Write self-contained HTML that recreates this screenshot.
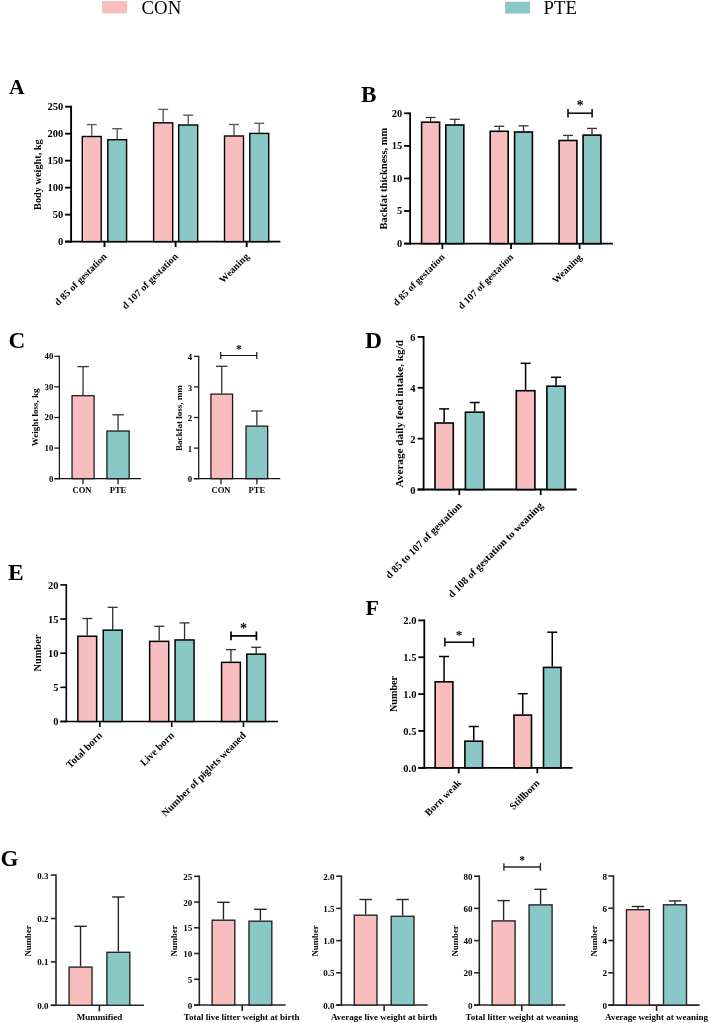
<!DOCTYPE html>
<html><head><meta charset="utf-8"><style>
html,body{margin:0;padding:0;background:#fff;}
svg{display:block;font-family:"Liberation Serif", serif;will-change:transform;}
</style></head><body>
<svg width="708" height="1023" viewBox="0 0 708 1023">
<rect width="708" height="1023" fill="#fff"/>
<rect x="102.1" y="1.1" width="25.1" height="12.3" fill="#F7BEBD"/>
<text x="141.60" y="14.00" font-size="18.8" font-weight="normal" text-anchor="start" fill="#000">CON</text>
<rect x="505.1" y="1.7" width="25" height="11.9" fill="#8AC8C7"/>
<text x="543.60" y="14.00" font-size="18.8" font-weight="normal" text-anchor="start" fill="#000">PTE</text>
<text x="9.10" y="93.80" font-size="21.5" font-weight="bold" text-anchor="start" fill="#000">A</text>
<text x="361.10" y="101.60" font-size="23.2" font-weight="bold" text-anchor="start" fill="#000">B</text>
<text x="8.40" y="347.80" font-size="23.2" font-weight="bold" text-anchor="start" fill="#000">C</text>
<text x="365.10" y="347.70" font-size="23.5" font-weight="bold" text-anchor="start" fill="#000">D</text>
<text x="8.10" y="579.80" font-size="23.5" font-weight="bold" text-anchor="start" fill="#000">E</text>
<text x="365.60" y="614.70" font-size="21.9" font-weight="bold" text-anchor="start" fill="#000">F</text>
<text x="0.40" y="866.30" font-size="23" font-weight="bold" text-anchor="start" fill="#000">G</text>
<line x1="71.10" y1="105.75" x2="71.10" y2="242.55" stroke="#000" stroke-width="1.9"/>
<line x1="65.10" y1="241.60" x2="280.40" y2="241.60" stroke="#000" stroke-width="1.9"/>
<line x1="65.10" y1="241.60" x2="71.10" y2="241.60" stroke="#000" stroke-width="1.9"/>
<text x="63.30" y="245.37" font-size="10.5" font-weight="bold" text-anchor="end" fill="#000">0</text>
<line x1="65.10" y1="214.62" x2="71.10" y2="214.62" stroke="#000" stroke-width="1.9"/>
<text x="63.30" y="218.39" font-size="10.5" font-weight="bold" text-anchor="end" fill="#000">50</text>
<line x1="65.10" y1="187.64" x2="71.10" y2="187.64" stroke="#000" stroke-width="1.9"/>
<text x="63.30" y="191.41" font-size="10.5" font-weight="bold" text-anchor="end" fill="#000">100</text>
<line x1="65.10" y1="160.66" x2="71.10" y2="160.66" stroke="#000" stroke-width="1.9"/>
<text x="63.30" y="164.43" font-size="10.5" font-weight="bold" text-anchor="end" fill="#000">150</text>
<line x1="65.10" y1="133.68" x2="71.10" y2="133.68" stroke="#000" stroke-width="1.9"/>
<text x="63.30" y="137.45" font-size="10.5" font-weight="bold" text-anchor="end" fill="#000">200</text>
<line x1="65.10" y1="106.70" x2="71.10" y2="106.70" stroke="#000" stroke-width="1.9"/>
<text x="63.30" y="110.47" font-size="10.5" font-weight="bold" text-anchor="end" fill="#000">250</text>
<line x1="91.75" y1="135.80" x2="91.75" y2="124.60" stroke="#5c5c5c" stroke-width="1.4"/>
<line x1="86.75" y1="124.60" x2="96.75" y2="124.60" stroke="#5c5c5c" stroke-width="1.4"/>
<rect x="82.30" y="136.50" width="18.90" height="105.10" fill="#F7BEBD" stroke="#000" stroke-width="1.4"/>
<line x1="117.20" y1="139.00" x2="117.20" y2="128.70" stroke="#5c5c5c" stroke-width="1.4"/>
<line x1="112.20" y1="128.70" x2="122.20" y2="128.70" stroke="#5c5c5c" stroke-width="1.4"/>
<rect x="107.80" y="139.70" width="18.80" height="101.90" fill="#8AC8C7" stroke="#000" stroke-width="1.4"/>
<line x1="163.15" y1="122.10" x2="163.15" y2="109.40" stroke="#5c5c5c" stroke-width="1.4"/>
<line x1="158.15" y1="109.40" x2="168.15" y2="109.40" stroke="#5c5c5c" stroke-width="1.4"/>
<rect x="153.60" y="122.80" width="19.10" height="118.80" fill="#F7BEBD" stroke="#000" stroke-width="1.4"/>
<line x1="188.20" y1="124.30" x2="188.20" y2="115.20" stroke="#5c5c5c" stroke-width="1.4"/>
<line x1="183.20" y1="115.20" x2="193.20" y2="115.20" stroke="#5c5c5c" stroke-width="1.4"/>
<rect x="178.70" y="125.00" width="19.00" height="116.60" fill="#8AC8C7" stroke="#000" stroke-width="1.4"/>
<line x1="234.00" y1="135.30" x2="234.00" y2="124.50" stroke="#5c5c5c" stroke-width="1.4"/>
<line x1="229.00" y1="124.50" x2="239.00" y2="124.50" stroke="#5c5c5c" stroke-width="1.4"/>
<rect x="224.50" y="136.00" width="19.00" height="105.60" fill="#F7BEBD" stroke="#000" stroke-width="1.4"/>
<line x1="259.25" y1="132.70" x2="259.25" y2="123.30" stroke="#5c5c5c" stroke-width="1.4"/>
<line x1="254.25" y1="123.30" x2="264.25" y2="123.30" stroke="#5c5c5c" stroke-width="1.4"/>
<rect x="249.80" y="133.40" width="18.90" height="108.20" fill="#8AC8C7" stroke="#000" stroke-width="1.4"/>
<line x1="104.50" y1="241.60" x2="104.50" y2="247.10" stroke="#000" stroke-width="1.9"/>
<line x1="175.60" y1="241.60" x2="175.60" y2="247.10" stroke="#000" stroke-width="1.9"/>
<line x1="246.70" y1="241.60" x2="246.70" y2="247.10" stroke="#000" stroke-width="1.9"/>
<text x="107.50" y="257.00" font-size="10.0" font-weight="bold" text-anchor="end" fill="#000" transform="rotate(-45 107.50 257.00)">d 85 of gestation</text>
<text x="178.60" y="257.00" font-size="10.0" font-weight="bold" text-anchor="end" fill="#000" transform="rotate(-45 178.60 257.00)">d 107 of gestation</text>
<text x="249.70" y="257.00" font-size="10.0" font-weight="bold" text-anchor="end" fill="#000" transform="rotate(-45 249.70 257.00)">Weaning</text>
<text x="41.10" y="174.60" font-size="10.3" font-weight="bold" text-anchor="middle" fill="#000" transform="rotate(-90 41.10 174.60)">Body weight, kg</text>
<line x1="410.10" y1="112.40" x2="410.10" y2="244.50" stroke="#000" stroke-width="1.8"/>
<line x1="404.10" y1="243.60" x2="612.90" y2="243.60" stroke="#000" stroke-width="1.8"/>
<line x1="404.10" y1="243.60" x2="410.10" y2="243.60" stroke="#000" stroke-width="1.8"/>
<text x="402.30" y="246.97" font-size="10.5" font-weight="bold" text-anchor="end" fill="#000">0</text>
<line x1="404.10" y1="211.02" x2="410.10" y2="211.02" stroke="#000" stroke-width="1.8"/>
<text x="402.30" y="214.39" font-size="10.5" font-weight="bold" text-anchor="end" fill="#000">5</text>
<line x1="404.10" y1="178.45" x2="410.10" y2="178.45" stroke="#000" stroke-width="1.8"/>
<text x="402.30" y="181.82" font-size="10.5" font-weight="bold" text-anchor="end" fill="#000">10</text>
<line x1="404.10" y1="145.88" x2="410.10" y2="145.88" stroke="#000" stroke-width="1.8"/>
<text x="402.30" y="149.25" font-size="10.5" font-weight="bold" text-anchor="end" fill="#000">15</text>
<line x1="404.10" y1="113.30" x2="410.10" y2="113.30" stroke="#000" stroke-width="1.8"/>
<text x="402.30" y="116.67" font-size="10.5" font-weight="bold" text-anchor="end" fill="#000">20</text>
<line x1="430.60" y1="121.40" x2="430.60" y2="117.50" stroke="#333" stroke-width="1.3"/>
<line x1="425.60" y1="117.50" x2="435.60" y2="117.50" stroke="#333" stroke-width="1.3"/>
<rect x="421.60" y="122.20" width="18.00" height="121.40" fill="#F7BEBD" stroke="#000" stroke-width="1.6"/>
<line x1="454.80" y1="124.20" x2="454.80" y2="119.30" stroke="#333" stroke-width="1.3"/>
<line x1="449.80" y1="119.30" x2="459.80" y2="119.30" stroke="#333" stroke-width="1.3"/>
<rect x="445.80" y="125.00" width="18.00" height="118.60" fill="#8AC8C7" stroke="#000" stroke-width="1.6"/>
<line x1="499.20" y1="130.50" x2="499.20" y2="126.30" stroke="#333" stroke-width="1.3"/>
<line x1="494.20" y1="126.30" x2="504.20" y2="126.30" stroke="#333" stroke-width="1.3"/>
<rect x="490.20" y="131.30" width="18.00" height="112.30" fill="#F7BEBD" stroke="#000" stroke-width="1.6"/>
<line x1="523.50" y1="131.20" x2="523.50" y2="125.80" stroke="#333" stroke-width="1.3"/>
<line x1="518.50" y1="125.80" x2="528.50" y2="125.80" stroke="#333" stroke-width="1.3"/>
<rect x="514.60" y="132.00" width="17.80" height="111.60" fill="#8AC8C7" stroke="#000" stroke-width="1.6"/>
<line x1="568.00" y1="139.70" x2="568.00" y2="135.40" stroke="#333" stroke-width="1.3"/>
<line x1="563.00" y1="135.40" x2="573.00" y2="135.40" stroke="#333" stroke-width="1.3"/>
<rect x="559.10" y="140.50" width="17.80" height="103.10" fill="#F7BEBD" stroke="#000" stroke-width="1.6"/>
<line x1="592.00" y1="134.30" x2="592.00" y2="128.40" stroke="#333" stroke-width="1.3"/>
<line x1="587.00" y1="128.40" x2="597.00" y2="128.40" stroke="#333" stroke-width="1.3"/>
<rect x="583.10" y="135.10" width="17.80" height="108.50" fill="#8AC8C7" stroke="#000" stroke-width="1.6"/>
<line x1="442.40" y1="243.60" x2="442.40" y2="249.10" stroke="#000" stroke-width="1.8"/>
<line x1="511.00" y1="243.60" x2="511.00" y2="249.10" stroke="#000" stroke-width="1.8"/>
<line x1="579.60" y1="243.60" x2="579.60" y2="249.10" stroke="#000" stroke-width="1.8"/>
<text x="445.40" y="257.70" font-size="9.9" font-weight="bold" text-anchor="end" fill="#000" transform="rotate(-45 445.40 257.70)">d 85 of gestation</text>
<text x="514.00" y="257.70" font-size="9.9" font-weight="bold" text-anchor="end" fill="#000" transform="rotate(-45 514.00 257.70)">d 107 of gestation</text>
<text x="582.60" y="257.70" font-size="9.9" font-weight="bold" text-anchor="end" fill="#000" transform="rotate(-45 582.60 257.70)">Weaning</text>
<text x="386.77" y="178.60" font-size="10.5" font-weight="bold" text-anchor="middle" fill="#000" transform="rotate(-90 386.77 178.60)">Backfat thickness, mm</text>
<line x1="568.00" y1="113.20" x2="592.10" y2="113.20" stroke="#000" stroke-width="1.5"/>
<line x1="568.00" y1="108.95" x2="568.00" y2="117.45" stroke="#000" stroke-width="1.5"/>
<line x1="592.10" y1="108.95" x2="592.10" y2="117.45" stroke="#000" stroke-width="1.5"/>
<text x="580.05" y="110.30" font-size="13.6" font-weight="bold" text-anchor="middle" fill="#000">*</text>
<line x1="59.40" y1="355.68" x2="59.40" y2="479.32" stroke="#151515" stroke-width="1.25"/>
<line x1="54.40" y1="478.70" x2="141.10" y2="478.70" stroke="#151515" stroke-width="1.25"/>
<line x1="54.40" y1="478.70" x2="59.40" y2="478.70" stroke="#151515" stroke-width="1.25"/>
<text x="53.30" y="481.69" font-size="8.8" font-weight="bold" text-anchor="end" fill="#000">0</text>
<line x1="54.40" y1="448.10" x2="59.40" y2="448.10" stroke="#151515" stroke-width="1.25"/>
<text x="53.30" y="451.09" font-size="8.8" font-weight="bold" text-anchor="end" fill="#000">10</text>
<line x1="54.40" y1="417.50" x2="59.40" y2="417.50" stroke="#151515" stroke-width="1.25"/>
<text x="53.30" y="420.49" font-size="8.8" font-weight="bold" text-anchor="end" fill="#000">20</text>
<line x1="54.40" y1="386.90" x2="59.40" y2="386.90" stroke="#151515" stroke-width="1.25"/>
<text x="53.30" y="389.89" font-size="8.8" font-weight="bold" text-anchor="end" fill="#000">30</text>
<line x1="54.40" y1="356.30" x2="59.40" y2="356.30" stroke="#151515" stroke-width="1.25"/>
<text x="53.30" y="359.29" font-size="8.8" font-weight="bold" text-anchor="end" fill="#000">40</text>
<line x1="83.05" y1="395.10" x2="83.05" y2="366.60" stroke="#333" stroke-width="1.3"/>
<line x1="77.30" y1="366.60" x2="88.80" y2="366.60" stroke="#333" stroke-width="1.3"/>
<rect x="72.03" y="395.73" width="22.05" height="82.97" fill="#F7BEBD" stroke="#151515" stroke-width="1.25"/>
<line x1="118.05" y1="430.40" x2="118.05" y2="414.80" stroke="#333" stroke-width="1.3"/>
<line x1="112.30" y1="414.80" x2="123.80" y2="414.80" stroke="#333" stroke-width="1.3"/>
<rect x="106.92" y="431.02" width="22.25" height="47.68" fill="#8AC8C7" stroke="#151515" stroke-width="1.25"/>
<line x1="83.00" y1="478.70" x2="83.00" y2="484.20" stroke="#151515" stroke-width="1.25"/>
<line x1="118.10" y1="478.70" x2="118.10" y2="484.20" stroke="#151515" stroke-width="1.25"/>
<text x="82.00" y="492.80" font-size="8.6" font-weight="bold" text-anchor="middle" fill="#000">CON</text>
<text x="118.00" y="492.80" font-size="8.6" font-weight="bold" text-anchor="middle" fill="#000">PTE</text>
<text x="38.26" y="417.35" font-size="9.0" font-weight="bold" text-anchor="middle" fill="#000" transform="rotate(-90 38.26 417.35)">Weight loss, kg</text>
<line x1="198.70" y1="355.68" x2="198.70" y2="479.32" stroke="#151515" stroke-width="1.25"/>
<line x1="193.90" y1="478.70" x2="280.30" y2="478.70" stroke="#151515" stroke-width="1.25"/>
<line x1="193.90" y1="478.70" x2="198.70" y2="478.70" stroke="#151515" stroke-width="1.25"/>
<text x="192.20" y="482.39" font-size="8.8" font-weight="bold" text-anchor="end" fill="#000">0</text>
<line x1="193.90" y1="448.10" x2="198.70" y2="448.10" stroke="#151515" stroke-width="1.25"/>
<text x="192.20" y="451.79" font-size="8.8" font-weight="bold" text-anchor="end" fill="#000">1</text>
<line x1="193.90" y1="417.50" x2="198.70" y2="417.50" stroke="#151515" stroke-width="1.25"/>
<text x="192.20" y="421.19" font-size="8.8" font-weight="bold" text-anchor="end" fill="#000">2</text>
<line x1="193.90" y1="386.90" x2="198.70" y2="386.90" stroke="#151515" stroke-width="1.25"/>
<text x="192.20" y="390.59" font-size="8.8" font-weight="bold" text-anchor="end" fill="#000">3</text>
<line x1="193.90" y1="356.30" x2="198.70" y2="356.30" stroke="#151515" stroke-width="1.25"/>
<text x="192.20" y="359.99" font-size="8.8" font-weight="bold" text-anchor="end" fill="#000">4</text>
<line x1="221.75" y1="393.50" x2="221.75" y2="366.30" stroke="#333" stroke-width="1.3"/>
<line x1="216.00" y1="366.30" x2="227.50" y2="366.30" stroke="#333" stroke-width="1.3"/>
<rect x="210.93" y="394.12" width="21.65" height="84.57" fill="#F7BEBD" stroke="#151515" stroke-width="1.25"/>
<line x1="256.85" y1="425.50" x2="256.85" y2="411.00" stroke="#333" stroke-width="1.3"/>
<line x1="251.10" y1="411.00" x2="262.60" y2="411.00" stroke="#333" stroke-width="1.3"/>
<rect x="246.03" y="426.12" width="21.65" height="52.57" fill="#8AC8C7" stroke="#151515" stroke-width="1.25"/>
<line x1="221.00" y1="478.70" x2="221.00" y2="484.20" stroke="#151515" stroke-width="1.25"/>
<line x1="256.90" y1="478.70" x2="256.90" y2="484.20" stroke="#151515" stroke-width="1.25"/>
<text x="221.00" y="492.80" font-size="8.6" font-weight="bold" text-anchor="middle" fill="#000">CON</text>
<text x="256.90" y="492.80" font-size="8.6" font-weight="bold" text-anchor="middle" fill="#000">PTE</text>
<text x="182.36" y="418.10" font-size="9.0" font-weight="bold" text-anchor="middle" fill="#000" transform="rotate(-90 182.36 418.10)">Backfat loss, mm</text>
<line x1="220.75" y1="355.50" x2="256.80" y2="355.50" stroke="#111" stroke-width="1.2"/>
<line x1="220.75" y1="352.05" x2="220.75" y2="358.95" stroke="#111" stroke-width="1.2"/>
<line x1="256.80" y1="352.05" x2="256.80" y2="358.95" stroke="#111" stroke-width="1.2"/>
<text x="238.78" y="352.90" font-size="11.5" font-weight="bold" text-anchor="middle" fill="#000">*</text>
<line x1="423.60" y1="336.00" x2="423.60" y2="490.40" stroke="#000" stroke-width="1.8"/>
<line x1="417.60" y1="489.50" x2="576.70" y2="489.50" stroke="#000" stroke-width="1.8"/>
<line x1="417.60" y1="489.50" x2="423.60" y2="489.50" stroke="#000" stroke-width="1.8"/>
<text x="415.50" y="493.57" font-size="10.5" font-weight="bold" text-anchor="end" fill="#000">0</text>
<line x1="417.60" y1="438.63" x2="423.60" y2="438.63" stroke="#000" stroke-width="1.8"/>
<text x="415.50" y="442.70" font-size="10.5" font-weight="bold" text-anchor="end" fill="#000">2</text>
<line x1="417.60" y1="387.77" x2="423.60" y2="387.77" stroke="#000" stroke-width="1.8"/>
<text x="415.50" y="391.84" font-size="10.5" font-weight="bold" text-anchor="end" fill="#000">4</text>
<line x1="417.60" y1="336.90" x2="423.60" y2="336.90" stroke="#000" stroke-width="1.8"/>
<text x="415.50" y="340.97" font-size="10.5" font-weight="bold" text-anchor="end" fill="#000">6</text>
<line x1="444.15" y1="422.20" x2="444.15" y2="408.90" stroke="#000" stroke-width="1.5"/>
<line x1="439.15" y1="408.90" x2="449.15" y2="408.90" stroke="#000" stroke-width="1.5"/>
<rect x="435.00" y="423.00" width="18.30" height="66.50" fill="#F7BEBD" stroke="#000" stroke-width="1.6"/>
<line x1="474.70" y1="411.40" x2="474.70" y2="402.50" stroke="#000" stroke-width="1.5"/>
<line x1="469.70" y1="402.50" x2="479.70" y2="402.50" stroke="#000" stroke-width="1.5"/>
<rect x="465.40" y="412.20" width="18.60" height="77.30" fill="#8AC8C7" stroke="#000" stroke-width="1.6"/>
<line x1="525.60" y1="389.90" x2="525.60" y2="363.30" stroke="#000" stroke-width="1.5"/>
<line x1="520.60" y1="363.30" x2="530.60" y2="363.30" stroke="#000" stroke-width="1.5"/>
<rect x="516.30" y="390.70" width="18.60" height="98.80" fill="#F7BEBD" stroke="#000" stroke-width="1.6"/>
<line x1="556.05" y1="385.40" x2="556.05" y2="377.30" stroke="#000" stroke-width="1.5"/>
<line x1="551.05" y1="377.30" x2="561.05" y2="377.30" stroke="#000" stroke-width="1.5"/>
<rect x="546.90" y="386.20" width="18.30" height="103.30" fill="#8AC8C7" stroke="#000" stroke-width="1.6"/>
<line x1="459.30" y1="489.50" x2="459.30" y2="495.00" stroke="#000" stroke-width="1.8"/>
<line x1="540.70" y1="489.50" x2="540.70" y2="495.00" stroke="#000" stroke-width="1.8"/>
<text x="462.30" y="506.40" font-size="10.5" font-weight="bold" text-anchor="end" fill="#000" transform="rotate(-45 462.30 506.40)">d 85 to 107 of gestation</text>
<text x="543.70" y="506.40" font-size="10.5" font-weight="bold" text-anchor="end" fill="#000" transform="rotate(-45 543.70 506.40)">d 108 of gestation to weaning</text>
<text x="403.51" y="413.70" font-size="11.2" font-weight="bold" text-anchor="middle" fill="#000" transform="rotate(-90 403.51 413.70)">Average daily feed intake, kg/d</text>
<line x1="66.30" y1="584.10" x2="66.30" y2="722.30" stroke="#000" stroke-width="1.6"/>
<line x1="60.30" y1="721.50" x2="277.90" y2="721.50" stroke="#000" stroke-width="1.6"/>
<line x1="60.30" y1="721.50" x2="66.30" y2="721.50" stroke="#000" stroke-width="1.6"/>
<text x="58.40" y="725.17" font-size="10.5" font-weight="bold" text-anchor="end" fill="#000">0</text>
<line x1="60.30" y1="687.35" x2="66.30" y2="687.35" stroke="#000" stroke-width="1.6"/>
<text x="58.40" y="691.02" font-size="10.5" font-weight="bold" text-anchor="end" fill="#000">5</text>
<line x1="60.30" y1="653.20" x2="66.30" y2="653.20" stroke="#000" stroke-width="1.6"/>
<text x="58.40" y="656.87" font-size="10.5" font-weight="bold" text-anchor="end" fill="#000">10</text>
<line x1="60.30" y1="619.05" x2="66.30" y2="619.05" stroke="#000" stroke-width="1.6"/>
<text x="58.40" y="622.72" font-size="10.5" font-weight="bold" text-anchor="end" fill="#000">15</text>
<line x1="60.30" y1="584.90" x2="66.30" y2="584.90" stroke="#000" stroke-width="1.6"/>
<text x="58.40" y="588.57" font-size="10.5" font-weight="bold" text-anchor="end" fill="#000">20</text>
<line x1="87.25" y1="635.50" x2="87.25" y2="618.50" stroke="#2e2e2e" stroke-width="1.3"/>
<line x1="82.25" y1="618.50" x2="92.25" y2="618.50" stroke="#2e2e2e" stroke-width="1.3"/>
<rect x="77.85" y="636.25" width="18.80" height="85.25" fill="#F7BEBD" stroke="#000" stroke-width="1.5"/>
<line x1="112.70" y1="629.40" x2="112.70" y2="607.30" stroke="#2e2e2e" stroke-width="1.3"/>
<line x1="107.70" y1="607.30" x2="117.70" y2="607.30" stroke="#2e2e2e" stroke-width="1.3"/>
<rect x="103.25" y="630.15" width="18.90" height="91.35" fill="#8AC8C7" stroke="#000" stroke-width="1.5"/>
<line x1="159.20" y1="640.60" x2="159.20" y2="626.30" stroke="#2e2e2e" stroke-width="1.3"/>
<line x1="154.20" y1="626.30" x2="164.20" y2="626.30" stroke="#2e2e2e" stroke-width="1.3"/>
<rect x="149.65" y="641.35" width="19.10" height="80.15" fill="#F7BEBD" stroke="#000" stroke-width="1.5"/>
<line x1="184.55" y1="639.20" x2="184.55" y2="622.90" stroke="#2e2e2e" stroke-width="1.3"/>
<line x1="179.55" y1="622.90" x2="189.55" y2="622.90" stroke="#2e2e2e" stroke-width="1.3"/>
<rect x="175.05" y="639.95" width="19.00" height="81.55" fill="#8AC8C7" stroke="#000" stroke-width="1.5"/>
<line x1="230.95" y1="661.60" x2="230.95" y2="649.60" stroke="#2e2e2e" stroke-width="1.3"/>
<line x1="225.95" y1="649.60" x2="235.95" y2="649.60" stroke="#2e2e2e" stroke-width="1.3"/>
<rect x="221.55" y="662.35" width="18.80" height="59.15" fill="#F7BEBD" stroke="#000" stroke-width="1.5"/>
<line x1="256.20" y1="653.40" x2="256.20" y2="647.30" stroke="#2e2e2e" stroke-width="1.3"/>
<line x1="251.20" y1="647.30" x2="261.20" y2="647.30" stroke="#2e2e2e" stroke-width="1.3"/>
<rect x="246.85" y="654.15" width="18.70" height="67.35" fill="#8AC8C7" stroke="#000" stroke-width="1.5"/>
<line x1="99.90" y1="721.50" x2="99.90" y2="727.00" stroke="#000" stroke-width="1.6"/>
<line x1="171.70" y1="721.50" x2="171.70" y2="727.00" stroke="#000" stroke-width="1.6"/>
<line x1="243.50" y1="721.50" x2="243.50" y2="727.00" stroke="#000" stroke-width="1.6"/>
<text x="102.90" y="736.00" font-size="10.3" font-weight="bold" text-anchor="end" fill="#000" transform="rotate(-45 102.90 736.00)">Total born</text>
<text x="174.70" y="736.00" font-size="10.3" font-weight="bold" text-anchor="end" fill="#000" transform="rotate(-45 174.70 736.00)">Live born</text>
<text x="246.50" y="736.00" font-size="10.3" font-weight="bold" text-anchor="end" fill="#000" transform="rotate(-45 246.50 736.00)">Number of piglets weaned</text>
<text x="41.14" y="653.10" font-size="10.4" font-weight="bold" text-anchor="middle" fill="#000" transform="rotate(-90 41.14 653.10)">Number</text>
<line x1="231.00" y1="635.90" x2="256.40" y2="635.90" stroke="#000" stroke-width="1.7"/>
<line x1="231.00" y1="631.45" x2="231.00" y2="640.35" stroke="#000" stroke-width="1.7"/>
<line x1="256.40" y1="631.45" x2="256.40" y2="640.35" stroke="#000" stroke-width="1.7"/>
<text x="243.70" y="632.80" font-size="14.3" font-weight="bold" text-anchor="middle" fill="#000">*</text>
<line x1="424.30" y1="619.50" x2="424.30" y2="768.70" stroke="#000" stroke-width="1.8"/>
<line x1="418.30" y1="767.80" x2="572.50" y2="767.80" stroke="#000" stroke-width="1.8"/>
<line x1="418.30" y1="767.80" x2="424.30" y2="767.80" stroke="#000" stroke-width="1.8"/>
<text x="416.40" y="771.87" font-size="10.5" font-weight="bold" text-anchor="end" fill="#000">0.0</text>
<line x1="418.30" y1="730.95" x2="424.30" y2="730.95" stroke="#000" stroke-width="1.8"/>
<text x="416.40" y="735.02" font-size="10.5" font-weight="bold" text-anchor="end" fill="#000">0.5</text>
<line x1="418.30" y1="694.10" x2="424.30" y2="694.10" stroke="#000" stroke-width="1.8"/>
<text x="416.40" y="698.17" font-size="10.5" font-weight="bold" text-anchor="end" fill="#000">1.0</text>
<line x1="418.30" y1="657.25" x2="424.30" y2="657.25" stroke="#000" stroke-width="1.8"/>
<text x="416.40" y="661.32" font-size="10.5" font-weight="bold" text-anchor="end" fill="#000">1.5</text>
<line x1="418.30" y1="620.40" x2="424.30" y2="620.40" stroke="#000" stroke-width="1.8"/>
<text x="416.40" y="624.47" font-size="10.5" font-weight="bold" text-anchor="end" fill="#000">2.0</text>
<line x1="444.05" y1="681.00" x2="444.05" y2="656.50" stroke="#000" stroke-width="1.5"/>
<line x1="439.05" y1="656.50" x2="449.05" y2="656.50" stroke="#000" stroke-width="1.5"/>
<rect x="435.20" y="681.80" width="17.70" height="86.00" fill="#F7BEBD" stroke="#000" stroke-width="1.6"/>
<line x1="473.75" y1="740.40" x2="473.75" y2="726.50" stroke="#000" stroke-width="1.5"/>
<line x1="468.75" y1="726.50" x2="478.75" y2="726.50" stroke="#000" stroke-width="1.5"/>
<rect x="464.90" y="741.20" width="17.70" height="26.60" fill="#8AC8C7" stroke="#000" stroke-width="1.6"/>
<line x1="522.75" y1="714.30" x2="522.75" y2="693.70" stroke="#000" stroke-width="1.5"/>
<line x1="517.75" y1="693.70" x2="527.75" y2="693.70" stroke="#000" stroke-width="1.5"/>
<rect x="514.00" y="715.10" width="17.50" height="52.70" fill="#F7BEBD" stroke="#000" stroke-width="1.6"/>
<line x1="552.25" y1="666.60" x2="552.25" y2="632.20" stroke="#000" stroke-width="1.5"/>
<line x1="547.25" y1="632.20" x2="557.25" y2="632.20" stroke="#000" stroke-width="1.5"/>
<rect x="543.50" y="667.40" width="17.50" height="100.40" fill="#8AC8C7" stroke="#000" stroke-width="1.6"/>
<line x1="458.70" y1="767.80" x2="458.70" y2="773.30" stroke="#000" stroke-width="1.8"/>
<line x1="537.30" y1="767.80" x2="537.30" y2="773.30" stroke="#000" stroke-width="1.8"/>
<text x="461.70" y="783.60" font-size="10.0" font-weight="bold" text-anchor="end" fill="#000" transform="rotate(-45 461.70 783.60)">Born weak</text>
<text x="540.30" y="783.60" font-size="10.0" font-weight="bold" text-anchor="end" fill="#000" transform="rotate(-45 540.30 783.60)">Stillborn</text>
<text x="397.07" y="694.00" font-size="10.2" font-weight="bold" text-anchor="middle" fill="#000" transform="rotate(-90 397.07 694.00)">Number</text>
<line x1="444.90" y1="642.20" x2="473.50" y2="642.20" stroke="#000" stroke-width="1.5"/>
<line x1="444.90" y1="637.80" x2="444.90" y2="646.60" stroke="#000" stroke-width="1.5"/>
<line x1="473.50" y1="637.80" x2="473.50" y2="646.60" stroke="#000" stroke-width="1.5"/>
<text x="459.20" y="639.00" font-size="13.4" font-weight="bold" text-anchor="middle" fill="#000">*</text>
<line x1="56.00" y1="874.30" x2="56.00" y2="1006.10" stroke="#262626" stroke-width="1.6"/>
<line x1="50.80" y1="1005.30" x2="143.90" y2="1005.30" stroke="#262626" stroke-width="1.6"/>
<line x1="50.80" y1="1005.30" x2="56.00" y2="1005.30" stroke="#262626" stroke-width="1.6"/>
<text x="48.60" y="1008.86" font-size="9" font-weight="bold" text-anchor="end" fill="#000">0.0</text>
<line x1="50.80" y1="961.90" x2="56.00" y2="961.90" stroke="#262626" stroke-width="1.6"/>
<text x="48.60" y="965.46" font-size="9" font-weight="bold" text-anchor="end" fill="#000">0.1</text>
<line x1="50.80" y1="918.50" x2="56.00" y2="918.50" stroke="#262626" stroke-width="1.6"/>
<text x="48.60" y="922.06" font-size="9" font-weight="bold" text-anchor="end" fill="#000">0.2</text>
<line x1="50.80" y1="875.10" x2="56.00" y2="875.10" stroke="#262626" stroke-width="1.6"/>
<text x="48.60" y="878.66" font-size="9" font-weight="bold" text-anchor="end" fill="#000">0.3</text>
<line x1="80.55" y1="966.40" x2="80.55" y2="926.30" stroke="#262626" stroke-width="1.4"/>
<line x1="74.30" y1="926.30" x2="86.80" y2="926.30" stroke="#262626" stroke-width="1.4"/>
<rect x="69.10" y="967.10" width="22.90" height="38.20" fill="#F7BEBD" stroke="#262626" stroke-width="1.4"/>
<line x1="118.35" y1="951.60" x2="118.35" y2="897.00" stroke="#262626" stroke-width="1.4"/>
<line x1="112.10" y1="897.00" x2="124.60" y2="897.00" stroke="#262626" stroke-width="1.4"/>
<rect x="106.90" y="952.30" width="22.90" height="53.00" fill="#8AC8C7" stroke="#262626" stroke-width="1.4"/>
<line x1="99.40" y1="1005.30" x2="99.40" y2="1011.30" stroke="#262626" stroke-width="1.6"/>
<text x="99.40" y="1020.40" font-size="9.0" font-weight="bold" text-anchor="middle" fill="#000">Mummified</text>
<text x="31.19" y="940.90" font-size="8.8" font-weight="bold" text-anchor="middle" fill="#000" transform="rotate(-90 31.19 940.90)">Number</text>
<line x1="199.30" y1="875.50" x2="199.30" y2="1005.80" stroke="#262626" stroke-width="1.6"/>
<line x1="194.10" y1="1005.00" x2="285.60" y2="1005.00" stroke="#262626" stroke-width="1.6"/>
<line x1="194.10" y1="1005.00" x2="199.30" y2="1005.00" stroke="#262626" stroke-width="1.6"/>
<text x="192.20" y="1008.56" font-size="9" font-weight="bold" text-anchor="end" fill="#000">0</text>
<line x1="194.10" y1="979.26" x2="199.30" y2="979.26" stroke="#262626" stroke-width="1.6"/>
<text x="192.20" y="982.82" font-size="9" font-weight="bold" text-anchor="end" fill="#000">5</text>
<line x1="194.10" y1="953.52" x2="199.30" y2="953.52" stroke="#262626" stroke-width="1.6"/>
<text x="192.20" y="957.08" font-size="9" font-weight="bold" text-anchor="end" fill="#000">10</text>
<line x1="194.10" y1="927.78" x2="199.30" y2="927.78" stroke="#262626" stroke-width="1.6"/>
<text x="192.20" y="931.34" font-size="9" font-weight="bold" text-anchor="end" fill="#000">15</text>
<line x1="194.10" y1="902.04" x2="199.30" y2="902.04" stroke="#262626" stroke-width="1.6"/>
<text x="192.20" y="905.60" font-size="9" font-weight="bold" text-anchor="end" fill="#000">20</text>
<line x1="194.10" y1="876.30" x2="199.30" y2="876.30" stroke="#262626" stroke-width="1.6"/>
<text x="192.20" y="879.86" font-size="9" font-weight="bold" text-anchor="end" fill="#000">25</text>
<line x1="223.45" y1="919.50" x2="223.45" y2="902.30" stroke="#262626" stroke-width="1.4"/>
<line x1="217.20" y1="902.30" x2="229.70" y2="902.30" stroke="#262626" stroke-width="1.4"/>
<rect x="212.10" y="920.20" width="22.70" height="84.80" fill="#F7BEBD" stroke="#262626" stroke-width="1.4"/>
<line x1="260.40" y1="920.50" x2="260.40" y2="909.30" stroke="#262626" stroke-width="1.4"/>
<line x1="254.15" y1="909.30" x2="266.65" y2="909.30" stroke="#262626" stroke-width="1.4"/>
<rect x="249.00" y="921.20" width="22.80" height="83.80" fill="#8AC8C7" stroke="#262626" stroke-width="1.4"/>
<line x1="242.20" y1="1005.00" x2="242.20" y2="1011.00" stroke="#262626" stroke-width="1.6"/>
<text x="241.70" y="1020.40" font-size="9.0" font-weight="bold" text-anchor="middle" fill="#000">Total live litter weight at birth</text>
<text x="177.39" y="940.90" font-size="8.8" font-weight="bold" text-anchor="middle" fill="#000" transform="rotate(-90 177.39 940.90)">Number</text>
<line x1="341.40" y1="875.40" x2="341.40" y2="1005.80" stroke="#262626" stroke-width="1.6"/>
<line x1="336.20" y1="1005.00" x2="427.70" y2="1005.00" stroke="#262626" stroke-width="1.6"/>
<line x1="336.20" y1="1005.00" x2="341.40" y2="1005.00" stroke="#262626" stroke-width="1.6"/>
<text x="334.50" y="1008.56" font-size="9" font-weight="bold" text-anchor="end" fill="#000">0.0</text>
<line x1="336.20" y1="972.80" x2="341.40" y2="972.80" stroke="#262626" stroke-width="1.6"/>
<text x="334.50" y="976.36" font-size="9" font-weight="bold" text-anchor="end" fill="#000">0.5</text>
<line x1="336.20" y1="940.60" x2="341.40" y2="940.60" stroke="#262626" stroke-width="1.6"/>
<text x="334.50" y="944.16" font-size="9" font-weight="bold" text-anchor="end" fill="#000">1.0</text>
<line x1="336.20" y1="908.40" x2="341.40" y2="908.40" stroke="#262626" stroke-width="1.6"/>
<text x="334.50" y="911.96" font-size="9" font-weight="bold" text-anchor="end" fill="#000">1.5</text>
<line x1="336.20" y1="876.20" x2="341.40" y2="876.20" stroke="#262626" stroke-width="1.6"/>
<text x="334.50" y="879.76" font-size="9" font-weight="bold" text-anchor="end" fill="#000">2.0</text>
<line x1="365.65" y1="914.50" x2="365.65" y2="899.50" stroke="#262626" stroke-width="1.4"/>
<line x1="359.40" y1="899.50" x2="371.90" y2="899.50" stroke="#262626" stroke-width="1.4"/>
<rect x="354.30" y="915.20" width="22.70" height="89.80" fill="#F7BEBD" stroke="#262626" stroke-width="1.4"/>
<line x1="402.60" y1="915.60" x2="402.60" y2="899.50" stroke="#262626" stroke-width="1.4"/>
<line x1="396.35" y1="899.50" x2="408.85" y2="899.50" stroke="#262626" stroke-width="1.4"/>
<rect x="391.20" y="916.30" width="22.80" height="88.70" fill="#8AC8C7" stroke="#262626" stroke-width="1.4"/>
<line x1="384.10" y1="1005.00" x2="384.10" y2="1011.00" stroke="#262626" stroke-width="1.6"/>
<text x="384.10" y="1020.40" font-size="9.0" font-weight="bold" text-anchor="middle" fill="#000">Average live weight at birth</text>
<text x="317.69" y="940.90" font-size="8.8" font-weight="bold" text-anchor="middle" fill="#000" transform="rotate(-90 317.69 940.90)">Number</text>
<line x1="479.30" y1="875.40" x2="479.30" y2="1005.80" stroke="#262626" stroke-width="1.6"/>
<line x1="474.10" y1="1005.00" x2="565.40" y2="1005.00" stroke="#262626" stroke-width="1.6"/>
<line x1="474.10" y1="1005.00" x2="479.30" y2="1005.00" stroke="#262626" stroke-width="1.6"/>
<text x="472.50" y="1008.56" font-size="9" font-weight="bold" text-anchor="end" fill="#000">0</text>
<line x1="474.10" y1="972.80" x2="479.30" y2="972.80" stroke="#262626" stroke-width="1.6"/>
<text x="472.50" y="976.36" font-size="9" font-weight="bold" text-anchor="end" fill="#000">20</text>
<line x1="474.10" y1="940.60" x2="479.30" y2="940.60" stroke="#262626" stroke-width="1.6"/>
<text x="472.50" y="944.16" font-size="9" font-weight="bold" text-anchor="end" fill="#000">40</text>
<line x1="474.10" y1="908.40" x2="479.30" y2="908.40" stroke="#262626" stroke-width="1.6"/>
<text x="472.50" y="911.96" font-size="9" font-weight="bold" text-anchor="end" fill="#000">60</text>
<line x1="474.10" y1="876.20" x2="479.30" y2="876.20" stroke="#262626" stroke-width="1.6"/>
<text x="472.50" y="879.76" font-size="9" font-weight="bold" text-anchor="end" fill="#000">80</text>
<line x1="503.60" y1="920.20" x2="503.60" y2="900.60" stroke="#262626" stroke-width="1.4"/>
<line x1="497.35" y1="900.60" x2="509.85" y2="900.60" stroke="#262626" stroke-width="1.4"/>
<rect x="492.10" y="920.90" width="23.00" height="84.10" fill="#F7BEBD" stroke="#262626" stroke-width="1.4"/>
<line x1="540.60" y1="904.20" x2="540.60" y2="889.30" stroke="#262626" stroke-width="1.4"/>
<line x1="534.35" y1="889.30" x2="546.85" y2="889.30" stroke="#262626" stroke-width="1.4"/>
<rect x="529.10" y="904.90" width="23.00" height="100.10" fill="#8AC8C7" stroke="#262626" stroke-width="1.4"/>
<line x1="521.80" y1="1005.00" x2="521.80" y2="1011.00" stroke="#262626" stroke-width="1.6"/>
<text x="521.80" y="1020.40" font-size="9.0" font-weight="bold" text-anchor="middle" fill="#000">Total litter weight at weaning</text>
<text x="457.69" y="940.90" font-size="8.8" font-weight="bold" text-anchor="middle" fill="#000" transform="rotate(-90 457.69 940.90)">Number</text>
<line x1="503.90" y1="867.00" x2="540.40" y2="867.00" stroke="#262626" stroke-width="1.4"/>
<line x1="503.90" y1="863.15" x2="503.90" y2="870.85" stroke="#262626" stroke-width="1.4"/>
<line x1="540.40" y1="863.15" x2="540.40" y2="870.85" stroke="#262626" stroke-width="1.4"/>
<text x="522.15" y="863.70" font-size="11.5" font-weight="bold" text-anchor="middle" fill="#000">*</text>
<line x1="613.50" y1="875.20" x2="613.50" y2="1005.90" stroke="#262626" stroke-width="1.6"/>
<line x1="608.30" y1="1005.10" x2="699.60" y2="1005.10" stroke="#262626" stroke-width="1.6"/>
<line x1="608.30" y1="1005.10" x2="613.50" y2="1005.10" stroke="#262626" stroke-width="1.6"/>
<text x="607.00" y="1008.66" font-size="9" font-weight="bold" text-anchor="end" fill="#000">0</text>
<line x1="608.30" y1="972.83" x2="613.50" y2="972.83" stroke="#262626" stroke-width="1.6"/>
<text x="607.00" y="976.38" font-size="9" font-weight="bold" text-anchor="end" fill="#000">2</text>
<line x1="608.30" y1="940.55" x2="613.50" y2="940.55" stroke="#262626" stroke-width="1.6"/>
<text x="607.00" y="944.11" font-size="9" font-weight="bold" text-anchor="end" fill="#000">4</text>
<line x1="608.30" y1="908.27" x2="613.50" y2="908.27" stroke="#262626" stroke-width="1.6"/>
<text x="607.00" y="911.83" font-size="9" font-weight="bold" text-anchor="end" fill="#000">6</text>
<line x1="608.30" y1="876.00" x2="613.50" y2="876.00" stroke="#262626" stroke-width="1.6"/>
<text x="607.00" y="879.56" font-size="9" font-weight="bold" text-anchor="end" fill="#000">8</text>
<line x1="637.95" y1="909.00" x2="637.95" y2="906.50" stroke="#262626" stroke-width="1.4"/>
<line x1="631.70" y1="906.50" x2="644.20" y2="906.50" stroke="#262626" stroke-width="1.4"/>
<rect x="626.50" y="909.70" width="22.90" height="95.40" fill="#F7BEBD" stroke="#262626" stroke-width="1.4"/>
<line x1="675.00" y1="904.10" x2="675.00" y2="900.90" stroke="#262626" stroke-width="1.4"/>
<line x1="668.75" y1="900.90" x2="681.25" y2="900.90" stroke="#262626" stroke-width="1.4"/>
<rect x="663.50" y="904.80" width="23.00" height="100.30" fill="#8AC8C7" stroke="#262626" stroke-width="1.4"/>
<line x1="656.60" y1="1005.10" x2="656.60" y2="1011.10" stroke="#262626" stroke-width="1.6"/>
<text x="656.60" y="1020.40" font-size="9.0" font-weight="bold" text-anchor="middle" fill="#000">Average weight at weaning</text>
<text x="596.89" y="940.90" font-size="8.8" font-weight="bold" text-anchor="middle" fill="#000" transform="rotate(-90 596.89 940.90)">Number</text>
</svg>
</body></html>
